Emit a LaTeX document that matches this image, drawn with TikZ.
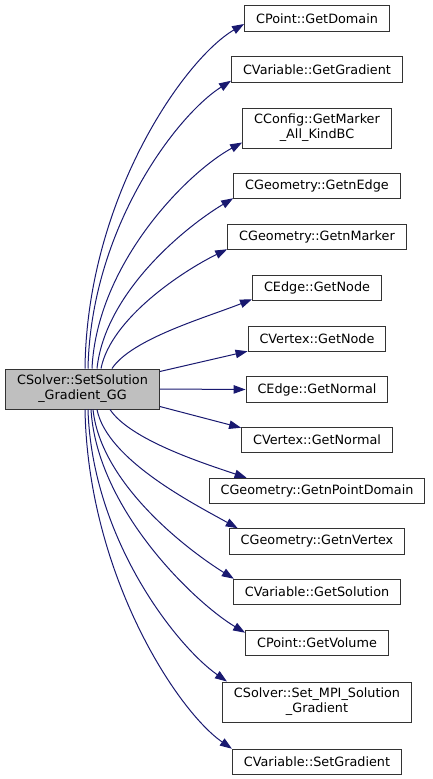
\documentclass[tikz,border=0pt]{standalone}
\usepackage{fontspec}
\setmainfont{DejaVu Sans}
\usepackage{tikz}
\usetikzlibrary{arrows.meta, positioning}

\definecolor{edgeblue}{HTML}{191970}
\definecolor{srcgray}{HTML}{BFBFBF}

\begin{document}
\begin{tikzpicture}[x=1pt, y=1pt,
    calledfn/.style={rectangle, draw=black!80, line width=1pt, fill=white,
      inner xsep=11.5pt, inner ysep=2pt, minimum height=25.5pt,
      align=center, font=\fontsize{12.8}{15}\selectfont},
    mainfn/.style={calledfn, fill=srcgray, minimum height=40pt},
    tallfn/.style={calledfn, minimum height=40pt},
    callarrow/.style={draw=edgeblue, line width=1pt,
      -{Triangle[length=12pt, width=8.5pt, fill=edgeblue]}}]
  \useasboundingbox (0,0) rectangle (432,-779);

  \node[mainfn] (setsol) at (82.5,-389) {CSolver::SetSolution\\\_Gradient\_GG};

  \node[calledfn] (getdomain)   at (317,-18.5) {CPoint::GetDomain};
  \node[calledfn] (getgrad)     at (317,-69.5) {CVariable::GetGradient};
  \node[tallfn]   (getmarker)   at (317,-128)  {CConfig::GetMarker\\\_All\_KindBC};
  \node[calledfn] (getnedge)    at (317,-186)  {CGeometry::GetnEdge};
  \node[calledfn] (getnmarker)  at (317,-237)  {CGeometry::GetnMarker};
  \node[calledfn] (edgenode)    at (317,-288)  {CEdge::GetNode};
  \node[calledfn] (vertexnode)  at (317,-339)  {CVertex::GetNode};
  \node[calledfn] (edgenormal)  at (317,-389.5) {CEdge::GetNormal};
  \node[calledfn] (vertexnormal) at (317,-440) {CVertex::GetNormal};
  \node[calledfn] (getnpoint)   at (317,-491)  {CGeometry::GetnPointDomain};
  \node[calledfn] (getnvertex)  at (317,-541.5) {CGeometry::GetnVertex};
  \node[calledfn] (getsolution) at (317,-592)  {CVariable::GetSolution};
  \node[calledfn] (getvolume)   at (317,-643)  {CPoint::GetVolume};
  \node[tallfn]   (mpigrad)     at (317,-702)  {CSolver::Set\_MPI\_Solution\\\_Gradient};
  \node[calledfn] (setgrad)     at (317,-762)  {CVariable::SetGradient};

  % calls leaving the top of the box
  \draw[callarrow] ([xshift=2.5pt]setsol.north) .. controls +(2,170) and +(-60,-35) .. ([yshift=-5.5pt]getdomain.west);
  \draw[callarrow] ([xshift=5.5pt]setsol.north) .. controls +(3,140) and +(-55,-35) .. ([yshift=2pt]getgrad.south west);
  \draw[callarrow] ([xshift=9.5pt]setsol.north) .. controls +(5,105) and +(-55,-30) .. ([yshift=6pt]getmarker.south west);
  \draw[callarrow] ([xshift=14.5pt]setsol.north) .. controls +(8,75) and +(-50,-30) .. ([yshift=1pt]getnedge.south west);
  \draw[callarrow] ([xshift=18.5pt]setsol.north) .. controls +(10,50) and +(-45,-22) .. ([yshift=1pt]getnmarker.south west);
  \draw[callarrow] ([xshift=29.5pt]setsol.north) .. controls +(20,30) and +(-45,-18) .. ([yshift=2pt]edgenode.south west);

  % calls leaving the right side
  \draw[callarrow] ([yshift=-3pt]setsol.north east) -- ([yshift=1pt]vertexnode.south west);
  \draw[callarrow] (setsol.east) -- (edgenormal.west);
  \draw[callarrow] ([yshift=3pt]setsol.south east) -- ([yshift=-1pt]vertexnormal.north west);

  % calls leaving the bottom of the box
  \draw[callarrow] ([xshift=27.5pt]setsol.south) .. controls +(20,-30) and +(-45,15) .. ([xshift=38pt]getnpoint.north west);
  \draw[callarrow] ([xshift=14.5pt]setsol.south) .. controls +(10,-50) and +(-45,25) .. ([xshift=9pt]getnvertex.north west);
  \draw[callarrow] ([xshift=10.5pt]setsol.south) .. controls +(8,-75) and +(-45,28) .. ([xshift=1pt]getsolution.north west);
  \draw[callarrow] ([xshift=8.5pt]setsol.south) .. controls +(6,-100) and +(-50,30) .. ([yshift=-3pt]getvolume.north west);
  \draw[callarrow] ([xshift=5.5pt]setsol.south) .. controls +(4,-130) and +(-50,35) .. ([xshift=5pt]mpigrad.north west);
  \draw[callarrow] ([xshift=2.5pt]setsol.south) .. controls +(3,-165) and +(-55,38) .. (setgrad.north west);
\end{tikzpicture}
\end{document}
